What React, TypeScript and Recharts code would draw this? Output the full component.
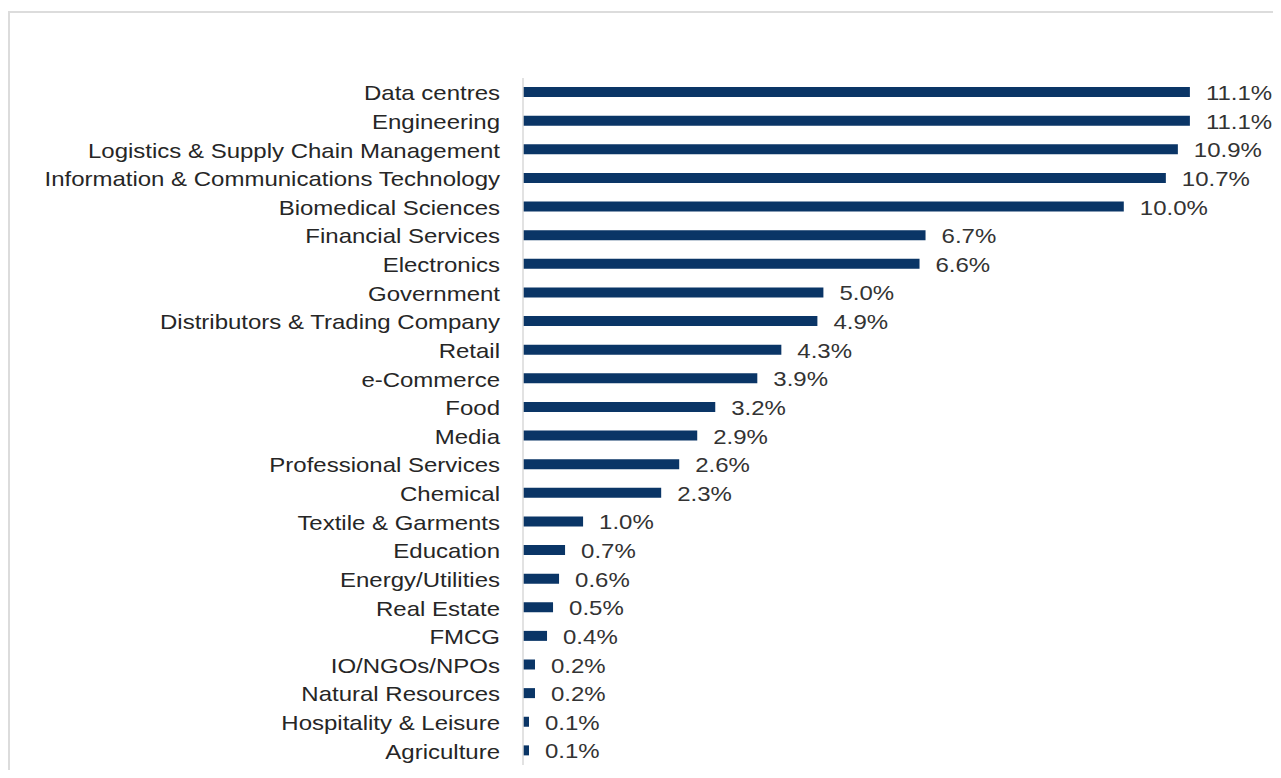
import React from "react";
import { BarChart, Bar, XAxis, YAxis, LabelList } from "recharts";

const industries = [
  "Data centres",
  "Engineering",
  "Logistics & Supply Chain Management",
  "Information & Communications Technology",
  "Biomedical Sciences",
  "Financial Services",
  "Electronics",
  "Government",
  "Distributors & Trading Company",
  "Retail",
  "e-Commerce",
  "Food",
  "Media",
  "Professional Services",
  "Chemical",
  "Textile & Garments",
  "Education",
  "Energy/Utilities",
  "Real Estate",
  "FMCG",
  "IO/NGOs/NPOs",
  "Natural Resources",
  "Hospitality & Leisure",
  "Agriculture",
];

const shares = [
  11.1, 11.1, 10.9, 10.7, 10.0, 6.7, 6.6, 5.0, 4.9, 4.3, 3.9, 3.2, 2.9, 2.6,
  2.3, 1.0, 0.7, 0.6, 0.5, 0.4, 0.2, 0.2, 0.1, 0.1,
];

const data = industries.map((name, i) => ({ name, value: shares[i] }));

const font = "'Liberation Sans', Arial, sans-serif";
// the source image text is a bit stretched horizontally
const stretch = 1.2;

const CategoryTick = ({ x, y, payload }: any) => (
  <text
    transform={`translate(${x},${y}) scale(${stretch},1)`}
    textAnchor="end"
    dy="0.4em"
    fontSize={20}
    fontFamily={font}
    fill="#262626"
  >
    {payload.value}
  </text>
);

const ValueLabel = ({ x, y, width, height, value }: any) => (
  <text
    transform={`translate(${Number(x) + Number(width) + 16},${Number(y) + Number(height) / 2}) scale(${stretch},1)`}
    textAnchor="start"
    dy="0.4em"
    fontSize={20}
    fontFamily={font}
    fill="#333333"
  >
    {`${Number(value).toFixed(1)}%`}
  </text>
);

export default function App() {
  return (
    <div style={{ position: "relative", width: 1273, height: 762, fontFamily: font }}>
      {/* frame of the cropped figure */}
      <div
        style={{
          position: "absolute",
          left: 0,
          top: 3,
          width: 1271,
          height: 757,
          borderLeft: "2px solid #dcdcdc",
          borderTop: "2px solid #dcdcdc",
        }}
      />
      <div style={{ position: "absolute", left: 0, top: 0 }}>
        <BarChart
          width={1273}
          height={762}
          data={data}
          layout="vertical"
          margin={{ top: 70, right: 7, bottom: 5, left: 0 }}
          barCategoryGap={0}
        >
          <XAxis type="number" domain={[0, 12.5]} hide />
          <YAxis
            type="category"
            dataKey="name"
            width={515}
            interval={0}
            tickLine={false}
            tickSize={0}
            tickMargin={23}
            axisLine={{ stroke: "#d9d9d9", strokeWidth: 1.5 }}
            tick={<CategoryTick />}
          />
          <Bar dataKey="value" fill="#0a3566" barSize={10} isAnimationActive={false}>
            <LabelList dataKey="value" content={<ValueLabel />} />
          </Bar>
        </BarChart>
      </div>
    </div>
  );
}
